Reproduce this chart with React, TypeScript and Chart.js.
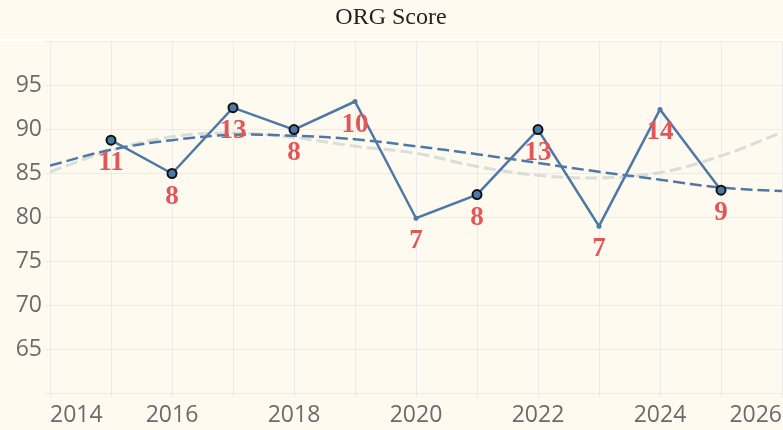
import React, { useEffect, useRef } from 'react';
import { Chart, registerables, Plugin } from 'chart.js';

Chart.register(...registerables);

// yearly score and the count shown under each point
const years = [2015, 2016, 2017, 2018, 2019, 2020, 2021, 2022, 2023, 2024, 2025];
const scores = [88.8, 85.0, 92.5, 90.0, 93.2, 79.9, 82.6, 90.0, 79.0, 92.3, 83.1];
const counts = [11, 8, 13, 8, 10, 7, 8, 13, 7, 14, 9];
const outlined = [true, true, true, true, false, false, true, true, false, false, true];

// trend curves, one value per year
const trendYears = [2014, 2015, 2016, 2017, 2018, 2019, 2020, 2021, 2022, 2023, 2024, 2025, 2026];
const blueTrend = [85.9, 87.7, 88.8, 89.4, 89.3, 88.9, 88.1, 87.2, 86.2, 85.2, 84.3, 83.4, 83.0];
const grayTrend = [85.2, 87.6, 89.2, 89.6, 89.1, 88.1, 87.3, 85.8, 84.8, 84.5, 85.1, 87.0, 89.7];

const yTickLabels = [65, 70, 75, 80, 85, 90, 95];
const xTickLabels = [2014, 2016, 2018, 2020, 2022, 2024, 2026];

const BG = '#fffaf0';
const BLUE = '#4e79a7';
const GRID = 'rgba(215,222,235,0.55)';
const TICK_FAMILY = '"Open Sans", "Noto Sans", sans-serif';

const paneBackground: Plugin = {
  id: 'paneBackground',
  beforeDraw(chart) {
    const { ctx, width, height, chartArea } = chart;
    ctx.save();
    ctx.fillStyle = BG;
    ctx.fillRect(0, 0, width, height);
    ctx.fillStyle = '#ffffff';
    ctx.fillRect(0, chartArea.top - 3, width, 2.5);
    ctx.restore();
  },
};

const countLabels: Plugin = {
  id: 'countLabels',
  afterDatasetsDraw(chart) {
    const meta = chart.getDatasetMeta(0);
    const ctx = chart.ctx;
    ctx.save();
    ctx.font = 'bold 27px "Liberation Serif", "Times New Roman", serif';
    ctx.fillStyle = '#e15759';
    ctx.textAlign = 'center';
    ctx.textBaseline = 'alphabetic';
    meta.data.forEach((pt, i) => {
      ctx.fillText(String(counts[i]), pt.x, pt.y + 30);
    });
    ctx.restore();
  },
};

const App: React.FC = () => {
  const canvasRef = useRef<HTMLCanvasElement | null>(null);

  useEffect(() => {
    const ctx = canvasRef.current!.getContext('2d')!;
    const chart = new Chart(ctx, {
      type: 'line',
      data: {
        datasets: [
          {
            data: years.map((x, i) => ({ x, y: scores[i] })),
            borderColor: BLUE,
            borderWidth: 2.5,
            tension: 0,
            pointRadius: (c: any) => (outlined[c.dataIndex] ? 4.5 : 2.5),
            pointBorderWidth: (c: any) => (outlined[c.dataIndex] ? 2 : 0),
            pointBorderColor: '#111111',
            pointBackgroundColor: BLUE,
            order: 0,
          },
          {
            data: trendYears.map((x, i) => ({ x, y: blueTrend[i] })),
            borderColor: BLUE,
            borderWidth: 2.5,
            borderDash: [12, 5],
            tension: 0.4,
            pointRadius: 0,
            order: 1,
          },
          {
            data: trendYears.map((x, i) => ({ x, y: grayTrend[i] })),
            borderColor: 'rgba(205,212,208,0.75)',
            borderWidth: 3,
            borderDash: [12, 5],
            tension: 0.4,
            pointRadius: 0,
            order: 2,
          },
        ],
      },
      options: {
        animation: false,
        responsive: true,
        maintainAspectRatio: false,
        events: [],
        layout: { autoPadding: false, padding: { left: 0, right: 1, top: 0, bottom: 0 } },
        plugins: {
          legend: { display: false },
          tooltip: { enabled: false },
          title: {
            display: true,
            text: 'ORG Score',
            color: '#222222',
            font: { family: '"Liberation Serif", "Times New Roman", serif', size: 24, weight: 'normal' },
            padding: { top: 3, bottom: 10 },
          },
        },
        scales: {
          x: {
            type: 'linear',
            min: 2014,
            max: 2026,
            afterFit: (s: any) => {
              s.height = 37;
            },
            border: { display: false },
            grid: { color: GRID, tickLength: 4, lineWidth: 1 },
            ticks: {
              stepSize: 1,
              autoSkip: false,
              maxRotation: 0,
              align: 'inner',
              padding: 0,
              color: '#6b6b6b',
              font: { family: TICK_FAMILY, size: 23, lineHeight: 1.6 },
              callback: (v: any) => (xTickLabels.includes(Number(v)) ? String(v) : ''),
            },
          },
          y: {
            min: 60,
            max: 100,
            afterFit: (s: any) => {
              s.width = 50;
            },
            border: { display: false },
            grid: { color: GRID, tickLength: 5, lineWidth: 1 },
            ticks: {
              stepSize: 5,
              padding: 3,
              color: '#6b6b6b',
              font: { family: TICK_FAMILY, size: 23 },
              callback: (v: any) => (yTickLabels.includes(Number(v)) ? String(v) : ''),
            },
          },
        },
      },
      plugins: [paneBackground, countLabels],
    });
    return () => chart.destroy();
  }, []);

  return (
    <div style={{ position: 'absolute', left: 0, top: 0, width: 783, height: 430, background: BG }}>
      <canvas ref={canvasRef} />
    </div>
  );
};

export default App;
